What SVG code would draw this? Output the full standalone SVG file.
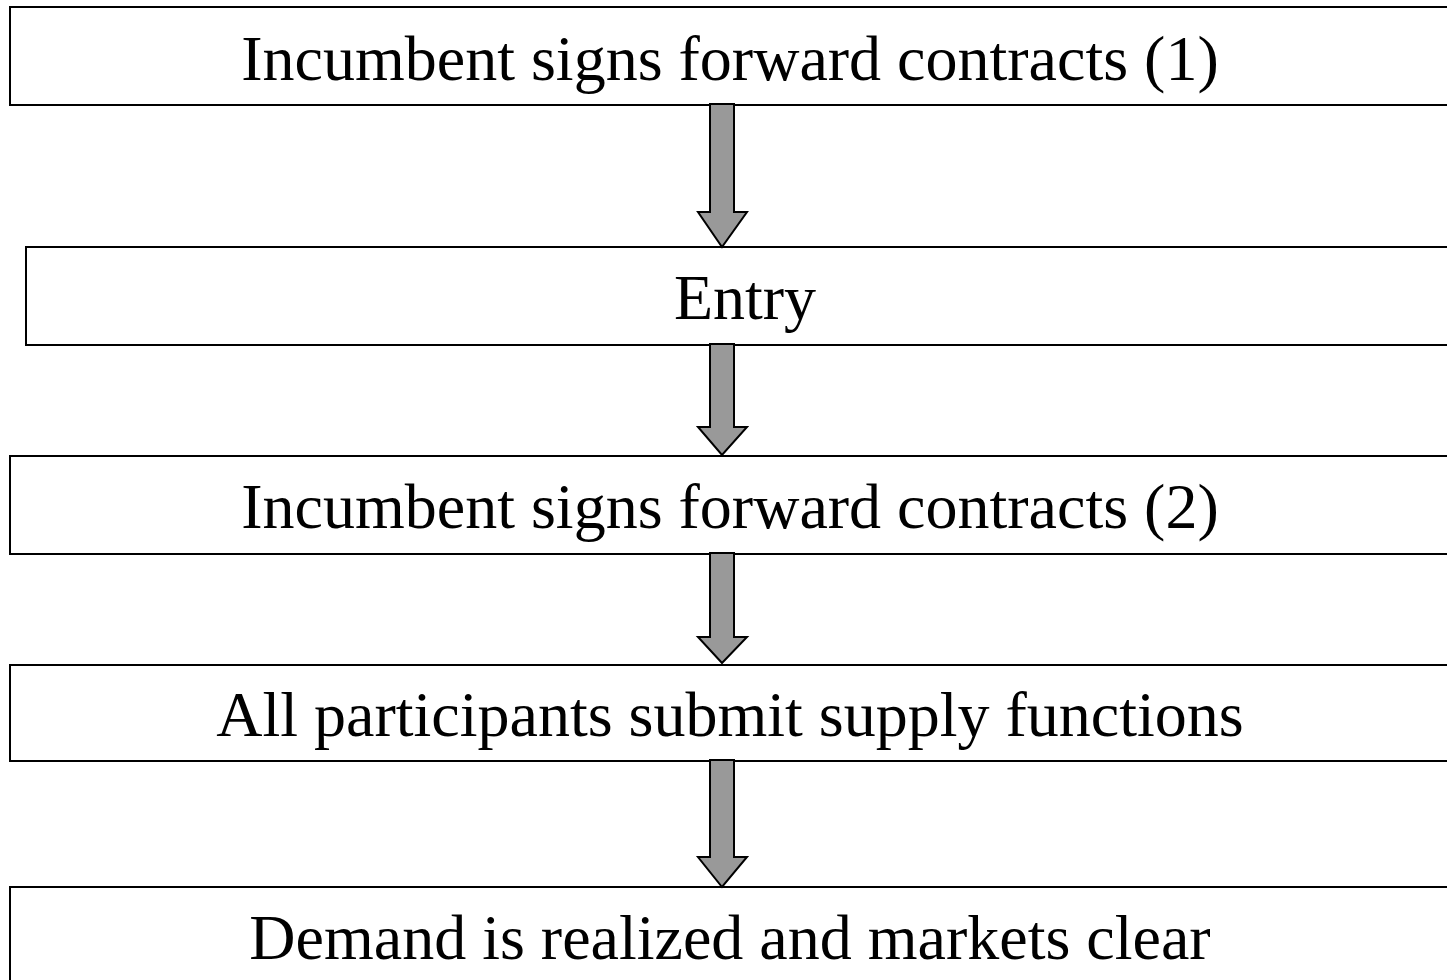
<svg xmlns="http://www.w3.org/2000/svg" width="1447" height="980" viewBox="0 0 1447 980">
<style>
.box{fill:#fff;stroke:#000;stroke-width:2}
.arr{fill:#999;stroke:#000;stroke-width:2;stroke-linejoin:miter}
text{font-family:"Liberation Serif","Times New Roman",serif;font-size:64px;fill:#000;text-anchor:middle}
</style>
<rect width="1447" height="980" fill="#fff"/>
<g id="node1"><rect class="box" x="10" y="7" width="1450" height="98"/><text x="730" y="80">Incumbent signs forward contracts (1)</text></g>
<g id="node2"><rect class="box" x="26" y="247" width="1434" height="98"/><text x="745" y="319">Entry</text></g>
<g id="node3"><rect class="box" x="10" y="456" width="1450" height="98"/><text x="730" y="528">Incumbent signs forward contracts (2)</text></g>
<g id="node4"><rect class="box" x="10" y="665" width="1450" height="96"/><text x="730" y="736">All participants submit supply functions</text></g>
<g id="node5"><rect class="box" x="10" y="887" width="1450" height="120"/><text x="730" y="959">Demand is realized and markets clear</text></g>
<g id="connectors">
<path class="arr" d="M710,104 L734,104 L734,212 L747,212 L722,247 L698,212 L710,212 Z"/>
<path class="arr" d="M710,344 L734,344 L734,427 L747,427 L722,455 L698,427 L710,427 Z"/>
<path class="arr" d="M710,553 L734,553 L734,637 L747,637 L722,663 L698,637 L710,637 Z"/>
<path class="arr" d="M710,760 L734,760 L734,857 L747,857 L722,887 L698,857 L710,857 Z"/>
</g>
</svg>
